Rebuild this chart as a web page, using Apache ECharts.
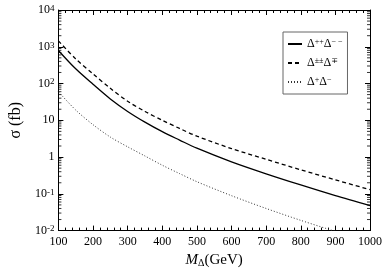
<!DOCTYPE html>
<html><head><meta charset="utf-8">
<script src="https://cdn.jsdelivr.net/npm/echarts@6/dist/echarts.min.js"></script>
<style>html,body{margin:0;padding:0;background:#fff}#c{width:385px;height:273px}</style>
</head><body><div id="c"></div>
<script>
const masses = [100,150,200,250,300,350,400,450,500,600,700,800,900,1000];
const sigmaPP = [794,251,95.5,38,17.4,8.9,4.9,2.9,1.74,0.74,0.35,0.174,0.089,0.048];
const sigmaPM = [1445,468,182,74,33,17.4,10,6.0,3.7,1.7,0.87,0.45,0.24,0.13];
const sigmaSS = [60,19,7.6,3.5,1.9,1.07,0.60,0.355,0.214,0.089,0.040,0.019,0.0095];
const seriesNames = ['pp','pm','ss'];
const legendLabels = {pp:'Δ{s|++}Δ{s|− −}', pm:'Δ{s|±±}Δ{s|∓}', ss:'Δ{s|+}Δ{s|−}'};
const yMinorVals = [];
for (let k=-2;k<=3;k++){ for (let m=2;m<=9;m++){ yMinorVals.push(m*Math.pow(10,k)); } }

const serif = '"Liberation Serif","DejaVu Serif",serif';
const pair = (xs, ys) => ys.map((v,i)=>[xs[i], v]);

const chart = echarts.init(document.getElementById('c'), null, {renderer:'canvas'});
const axisLine = {show:true, lineStyle:{color:'#000', width:1}};
const minorTickSeries = (xv, off) => ({
  name:'minor'+xv, type:'scatter', silent:true, clip:false,
  data: yMinorVals.map(v=>[xv, v]),
  symbol:'rect', symbolSize:[3,1], symbolOffset:[off,0],
  itemStyle:{color:'#000'}, z:5
});
chart.setOption({
  animation:false,
  backgroundColor:'#fff',
  grid:{left:39, right:13, top:10, bottom:33, show:false},
  legend:{
    data:seriesNames, left:283, top:32, orient:'vertical',
    borderColor:'#666', borderWidth:1, padding:[6,5,6,4], itemGap:7,
    itemWidth:14, itemHeight:12,
    itemStyle:{color:'rgba(0,0,0,0)', borderColor:'rgba(0,0,0,0)', borderWidth:0},
    formatter: n => legendLabels[n],
    textStyle:{fontFamily:serif, fontSize:12, color:'#000',
      rich:{s:{fontSize:8, fontFamily:serif, verticalAlign:'top'}}}
  },
  xAxis:[{
    type:'value', min:100, max:1000, interval:100, position:'bottom',
    axisLine, axisTick:{show:true, inside:true, length:5, lineStyle:{color:'#000'}},
    minorTick:{show:true, splitNumber:5, length:3, lineStyle:{color:'#000'}},
    splitLine:{show:false},
    axisLabel:{fontFamily:serif, fontSize:12, color:'#000', margin:5, formatter: v => String(v)},
    name:'{i|M}{sub|Δ}{n|(GeV)}', nameLocation:'middle', nameGap:18,
    nameTextStyle:{fontFamily:serif, color:'#000',
      rich:{i:{fontStyle:'italic', fontSize:15, fontFamily:serif},
            sub:{fontSize:10, fontFamily:serif, verticalAlign:'bottom', padding:[6,0,0,0]},
            n:{fontSize:15, fontFamily:serif}}}
  },{
    type:'value', min:100, max:1000, interval:100, position:'top',
    axisLine, axisTick:{show:true, inside:true, length:5, lineStyle:{color:'#000'}},
    minorTick:{show:true, splitNumber:5, length:3, lineStyle:{color:'#000'}},
    splitLine:{show:false}, axisLabel:{show:false}
  }],
  yAxis:[{
    type:'log', logBase:10, min:0.01, max:10000, position:'left',
    axisLine, axisTick:{show:true, inside:true, length:5, lineStyle:{color:'#000'}},
    splitLine:{show:false},
    axisLabel:{fontFamily:serif, fontSize:12, color:'#000', margin:4,
      formatter: v => { const e = Math.round(Math.log10(v));
        if (e===0) return '1'; if (e===1) return '10'; return '10{s|'+(e<0?'-':'')+Math.abs(e)+'}'; },
      rich:{s:{fontSize:9, fontFamily:serif, verticalAlign:'top'}}},
    name:'σ (fb)', nameLocation:'middle', nameGap:29, nameRotate:90,
    nameTextStyle:{fontFamily:serif, fontSize:16, color:'#000'}
  },{
    type:'log', logBase:10, min:0.01, max:10000, position:'right',
    axisLine, axisTick:{show:true, inside:true, length:5, lineStyle:{color:'#000'}},
    splitLine:{show:false}, axisLabel:{show:false}
  }],
  series:[
    {name:'pp', type:'line', data:pair(masses,sigmaPP), smooth:0.3, symbol:'none',
     lineStyle:{color:'#000', width:1.3}, itemStyle:{color:'#000'}},
    {name:'pm', type:'line', data:pair(masses,sigmaPM), smooth:0.3, symbol:'none',
     lineStyle:{color:'#000', width:1.3, type:[4,3]}, itemStyle:{color:'#000'}},
    {name:'ss', type:'line', data:pair(masses,sigmaSS), smooth:0.3, symbol:'none', clip:true,
     lineStyle:{color:'#333', width:1, type:[1,2]}, itemStyle:{color:'#000'}},
    minorTickSeries(100, 1.5),
    minorTickSeries(1000, -1.5)
  ]
});
</script></body></html>
